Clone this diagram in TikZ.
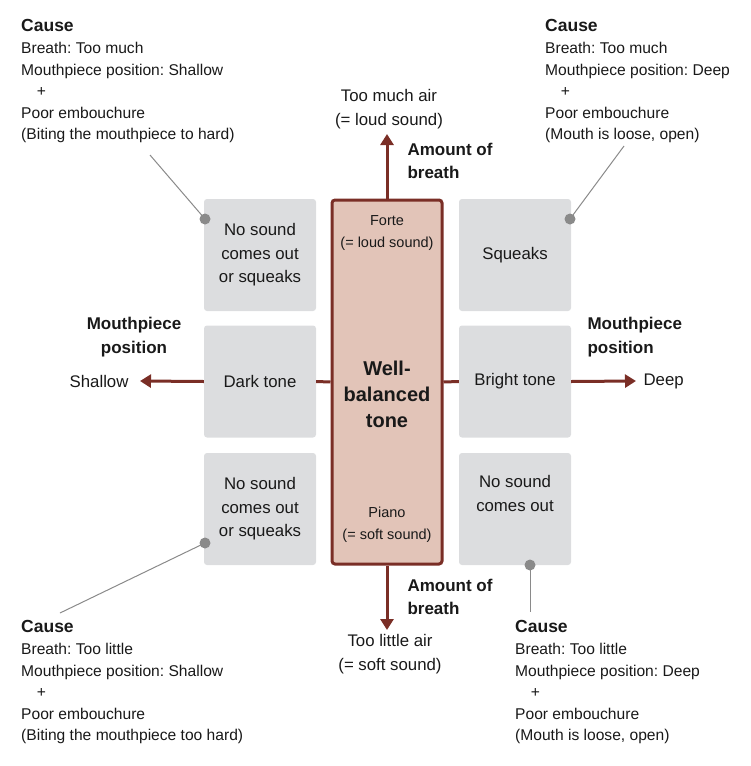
\documentclass[tikz,border=0pt]{standalone}
\usepackage{fontspec}
\setmainfont{Liberation Sans}
\usetikzlibrary{arrows.meta}
\definecolor{dred}{HTML}{7A2E26}
\definecolor{pink}{HTML}{E2C4B8}
\definecolor{gbox}{HTML}{DCDDDF}
\definecolor{gline}{HTML}{8A8A8A}
\frenchspacing
\begin{document}
\begin{tikzpicture}[x=1pt,y=-1pt,
  every node/.style={font=\fontsize{16.8}{23.5}\selectfont,text=black!90},
  gb/.style={fill=gbox,rounded corners=3pt,minimum width=112pt,minimum height=112pt,align=center,inner sep=0pt},
  arr/.style={dred,line width=3pt,-{Triangle[length=11pt,width=13pt]}},
  lab/.style={align=left,anchor=north west,inner sep=0pt,font=\fontsize{15.6}{21.5}\selectfont},
  hd/.style={anchor=north west,inner sep=0pt,font=\fontsize{17.5}{22}\selectfont\bfseries},
  bl/.style={font=\fontsize{17}{23.5}\selectfont\bfseries},
  dot/.style={circle,fill=gline,inner sep=0pt,minimum size=11pt},
  con/.style={gline,line width=1pt}]
\useasboundingbox (0,0) rectangle (750,766);
% gray boxes
\node[gb] (tl) at (260,255) {No sound\\comes out\\or squeaks};
\node[gb] (ml) at (260,381.5) {Dark tone};
\node[gb] (bl) at (260,509) {No sound\\comes out\\or squeaks};
\node[gb] (tr) at (515,255) {Squeaks};
\node[gb] (mr) at (515,381.5) {Bright tone};
\node[gb] (br) at (515,509) {No sound\\comes out\\[8pt]};
% center
\node[fill=pink,draw=dred,line width=3pt,rounded corners=3pt,minimum width=110pt,minimum height=364pt,inner sep=0pt] (c) at (387,382) {};
\node[font=\fontsize{20}{26}\selectfont\bfseries,align=center] (ct) at (387,394) {Well-\\balanced\\tone};
\node[font=\fontsize{14.5}{22}\selectfont,align=center] (ft) at (387,233) {Forte\\(= loud sound)};
\node[font=\fontsize{14.5}{22}\selectfont,align=center] (pn) at (387,525) {Piano\\(= soft sound)};
% connecting stubs
\draw[dred,line width=3pt] (ml.east) -- (c.west);
\draw[dred,line width=3pt] (c.east) -- (mr.west);
% arrows
\coordinate (up) at (387,134);
\coordinate (dn) at (387,630);
\coordinate (lf) at (140,381);
\coordinate (rt) at (636,381);
\draw[arr] (c.north) -- (up);
\draw[arr] (c.south) -- (dn);
\draw[arr] (ml.west) -- (lf);
\draw[arr] (mr.east) -- (rt);
\node[align=center] (ua) at (389,109) {Too much air\\(= loud sound)};
\node[align=center] (da) at (390,654) {Too little air\\(= soft sound)};
\node[anchor=east] (sh) at (132,381) {Shallow};
\node[anchor=west] (dp) at (640,381) {Deep};
\node[bl,align=left,anchor=west] (ab1) at (404,161) {Amount of\\breath};
\node[bl,align=left,anchor=west] (ab2) at (404,597) {Amount of\\breath};
\node[bl,align=center] (mp1) at (134,337) {Mouthpiece\\position};
\node[bl,align=left,anchor=west] (mp2) at (584,337) {Mouthpiece\\position};
% causes
\node[hd] (h1) at (21,19) {Cause};
\node[lab] (c1) at (21,42) {Breath: Too much\\Mouthpiece position: Shallow\\\quad+\\Poor embouchure\\(Biting the mouthpiece to hard)};
\node[hd] (h2) at (545,19) {Cause};
\node[lab] (c2) at (545,42) {Breath: Too much\\Mouthpiece position: Deep\\\quad+\\Poor embouchure\\(Mouth is loose, open)};
\node[hd] (h3) at (21,620) {Cause};
\node[lab] (c3) at (21,643) {Breath: Too little\\Mouthpiece position: Shallow\\\quad+\\Poor embouchure\\(Biting the mouthpiece too hard)};
\node[hd] (h4) at (515,620) {Cause};
\node[lab] (c4) at (515,643) {Breath: Too little\\Mouthpiece position: Deep\\\quad+\\Poor embouchure\\(Mouth is loose, open)};
% dots and lines
\node[dot] (d1) at (205,219) {};
\node[dot] (d2) at (570,219) {};
\node[dot] (d3) at (205,543) {};
\node[dot] (d4) at (530,565) {};
\coordinate (e1) at (150,155);
\coordinate (e2) at (624,146);
\coordinate (e3) at (60,613);
\coordinate (e4) at (530,612);
\draw[con] (d1.center) -- (e1);
\draw[con] (d2.center) -- (e2);
\draw[con] (d3.center) -- (e3);
\draw[con] (d4.center) -- (e4);
\end{tikzpicture}
\end{document}
